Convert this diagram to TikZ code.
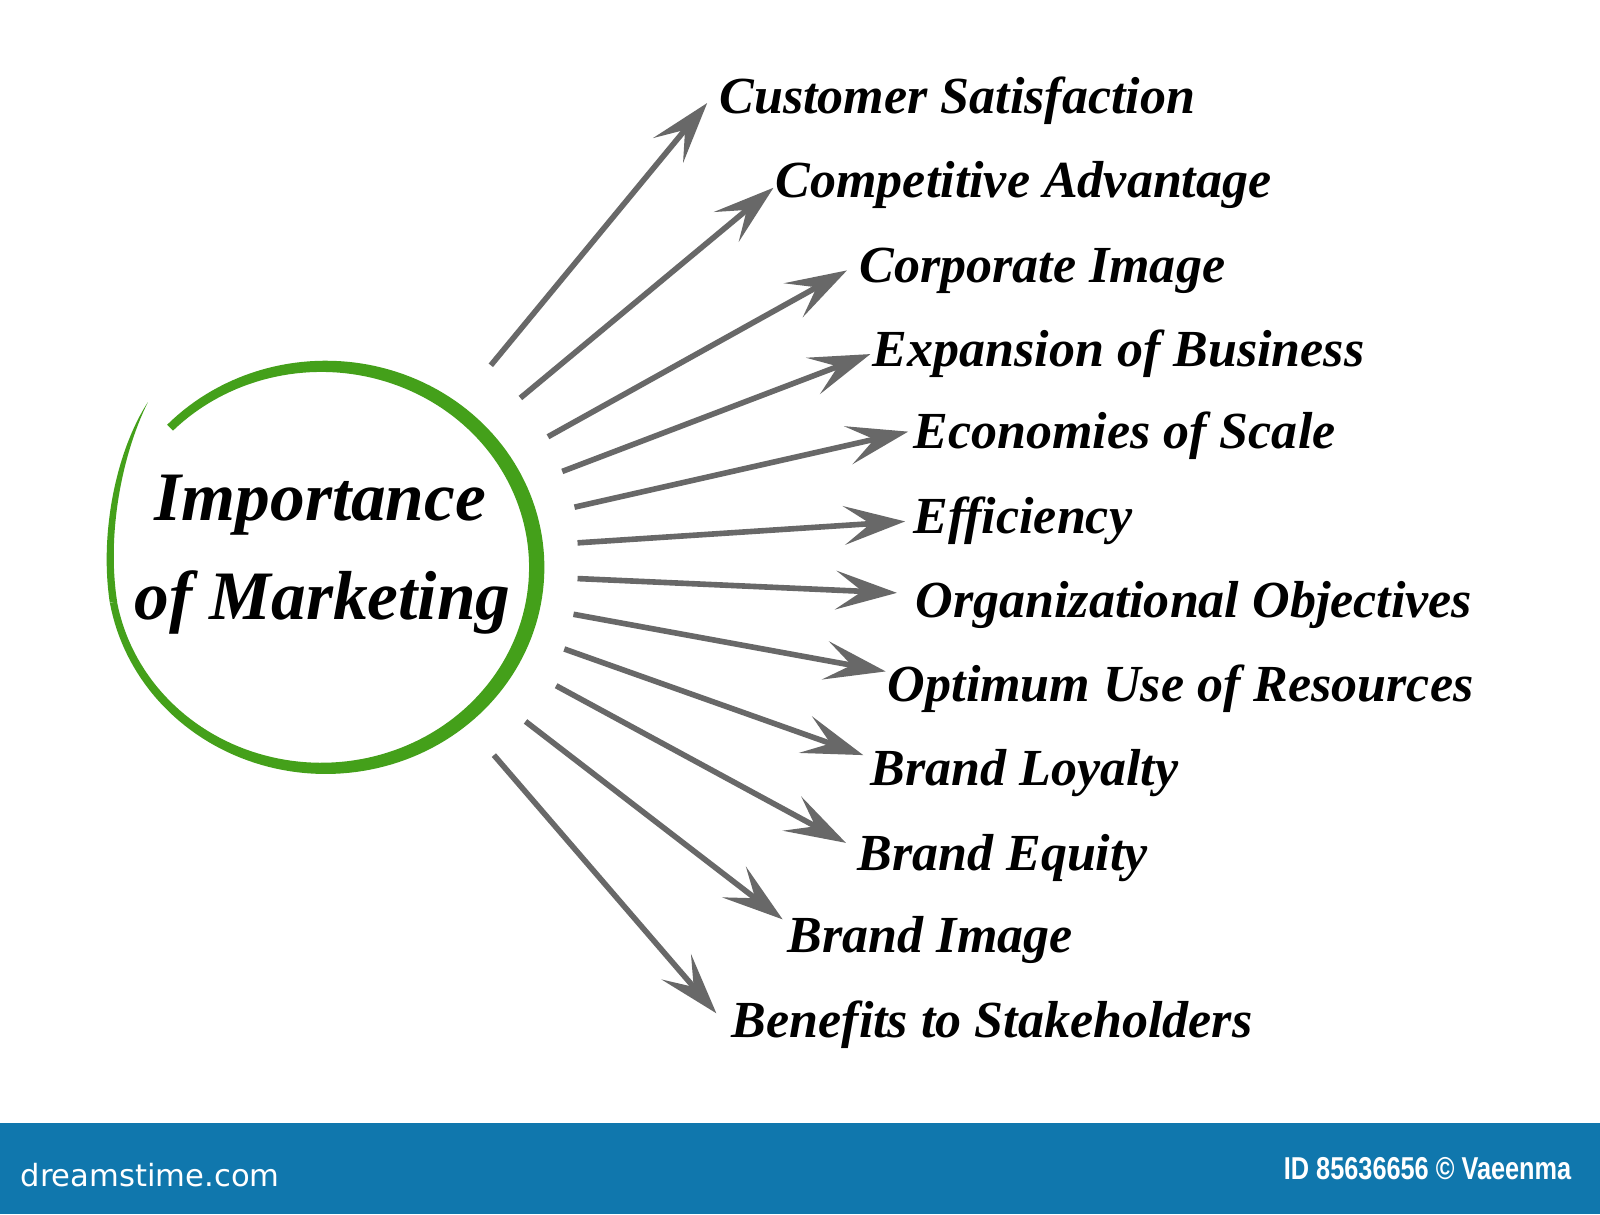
\documentclass[tikz,border=0pt]{standalone}
\usepackage{fontspec}
\setmainfont{Liberation Serif}
\newfontfamily\barsans{Liberation Sans}
\newfontfamily\logofont{DejaVu Sans}
\usetikzlibrary{arrows.meta}
\definecolor{arrowgray}{RGB}{104,104,104}
\definecolor{ringgreen}{RGB}{68,160,26}
\definecolor{barblue}{RGB}{16,119,173}
\begin{document}
\begin{tikzpicture}[x=1pt,y=-1pt,
  lbl/.style={anchor=base west, inner sep=0pt, font=\fontsize{51}{56}\selectfont\bfseries\itshape},
  ttl/.style={anchor=base, inner sep=0pt, font=\fontsize{68}{76}\selectfont\bfseries\itshape},
  arr/.style={draw=arrowgray, line width=5.5pt, -{Stealth[length=60pt,width=38pt,inset=26pt]}},
  ringfill/.style={fill=ringgreen}]
\useasboundingbox (0,0) rectangle (1568,1190);
\fill[white] (0,0) rectangle (1568,1190);
\fill[barblue] (0,1101) rectangle (1568,1190);
% ring body (thicker on the right, thinner on the left)
\fill[ringfill] plot[domain=136:-170, samples=160] ({317+(209+5.5+2*cos(\x))*cos(\x)}, {556-(197+5.5+2*cos(\x))*sin(\x)})
  -- plot[domain=-170:136, samples=160] ({317+(209-5.5-2*cos(\x))*cos(\x)}, {556-(197-5.5-2*cos(\x))*sin(\x)}) -- cycle;
% tapering tail on the left side
\coordinate (tailL) at (107.6,590.6);
\coordinate (tailR) at (114.8,589.8);
\coordinate (tailTip) at (145,394);
\fill[ringfill] (tailL) .. controls (97,520) and (115,440) .. (tailTip)
  .. controls (121,442) and (104,520) .. (tailR) -- cycle;
% title
\node[ttl] (ti1) at (314,510) {Importance};
\node[ttl] (ti2) at (316,607) {of Marketing};
% labels
\node[lbl] (l1) at (705,111) {Customer Satisfaction};
\node[lbl] (l2) at (760,194) {Competitive Advantage};
\node[lbl] (l3) at (842,277) {Corporate Image};
\node[lbl] (l4) at (855,359) {Expansion of Business};
\node[lbl] (l5) at (895,440) {Economies of Scale};
\node[lbl] (l6) at (895,523) {Efficiency};
\node[lbl] (l7) at (897,605) {Organizational Objectives};
\node[lbl] (l8) at (870,687) {Optimum Use of Resources};
\node[lbl] (l9) at (853,770) {Brand Loyalty};
\node[lbl] (l10) at (840,853) {Brand Equity};
\node[lbl] (l11) at (772,933) {Brand Image};
\node[lbl] (l12) at (717,1017) {Benefits to Stakeholders};
% arrow ends
\coordinate (s1) at (481,358);  \coordinate (e1) at (693,101);
\coordinate (s2) at (510,390);  \coordinate (e2) at (758,184);
\coordinate (s3) at (537,428);  \coordinate (e3) at (830,265);
\coordinate (s4) at (551,462);  \coordinate (e4) at (853,347);
\coordinate (s5) at (563,497);  \coordinate (e5) at (890,423);
\coordinate (s6) at (566,532);  \coordinate (e6) at (887,511);
\coordinate (s7) at (566,567);  \coordinate (e7) at (879,581);
\coordinate (s8) at (562,602);  \coordinate (e8) at (868,658);
\coordinate (s9) at (553,636);  \coordinate (e9) at (846,740);
\coordinate (s10) at (545,672); \coordinate (e10) at (829,826);
\coordinate (s11) at (515,707); \coordinate (e11) at (767,901);
\coordinate (s12) at (484,740); \coordinate (e12) at (702,993);
\foreach \i in {1,...,12} {\draw[arr] (s\i) -- (e\i);}
% bottom bar texts
\node[anchor=base west, inner sep=0pt, text=white, font=\fontsize{30}{34}\logofont\selectfont] (logo) at (20,1163) {dreamstime.com};
\node[anchor=base east, inner sep=0pt, text=white, xscale=0.8, font=\fontsize{31}{34}\barsans\bfseries\selectfont] (idtext) at (1540,1156) {ID 85636656 © Vaeenma};
\end{tikzpicture}
\end{document}
